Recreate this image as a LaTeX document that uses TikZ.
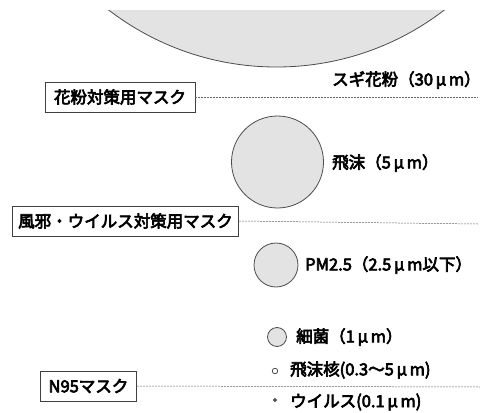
\documentclass[tikz,border=0pt]{standalone}
\usepackage{fontspec}
\newfontfamily\jp{Noto Sans CJK JP}[AutoFakeBold=4]
\begin{document}
\begin{tikzpicture}[x=1pt,y=-1pt,
  particle/.style={circle,draw=black!70,fill=gray!22,line width=0.8pt,inner sep=0pt},
  masklabel/.style={draw=black!75,line width=0.8pt,font=\jp\bfseries\fontsize{16.5}{18}\selectfont,inner xsep=6pt,inner ysep=0pt,minimum height=30pt},
  sizelabel/.style={anchor=west,font=\jp\bfseries\fontsize{16.5}{18}\selectfont,inner sep=0pt},
  limit/.style={draw=black!60,line width=0.5pt,dash pattern=on 2pt off 1pt}]
\useasboundingbox (0,0) rectangle (484,412);
\begin{scope}
\clip (0,11) rectangle (484,412);
\node[particle,minimum size=551pt] (pollen) at (276.5,-208.5) {};
\end{scope}
\node[sizelabel] (tpollen) at (332,80) {スギ花粉（30\,μ\,m）};
\node[masklabel,inner xsep=9pt] (m1) at (120,97) {花粉対策用マスク};
\coordinate (e1) at (478,97);
\draw[limit] (m1.east) -- (e1);

\node[particle,minimum size=92pt] (drop) at (277.5,162) {};
\node[sizelabel] (tdrop) at (332,163) {飛沫（5\,μ\,m）};
\node[masklabel] (m2) at (125.5,221) {風邪・ウイルス対策用マスク};
\coordinate (e2) at (478,224);
\draw[limit] (m2.east) -- (e2);

\node[particle,minimum size=44pt] (pm) at (276,265) {};
\node[sizelabel] (tpm) at (305,265) {PM2.5（2.5\,μ\,m以下）};

\node[particle,minimum size=19pt] (bac) at (277,337) {};
\node[sizelabel] (tbac) at (296,337) {細菌（1\,μ\,m）};

\node[particle,fill=white,minimum size=5.5pt] (nuc) at (275,371) {};
\node[sizelabel] (tnuc) at (290,370) {飛沫核(0.3〜5\,μ\,m)};

\node[masklabel,inner xsep=8pt] (m3) at (88.5,386) {N95マスク};
\coordinate (e3) at (480,387);
\draw[limit] (m3.east) -- (e3);

\node[particle,fill=black!60,minimum size=3pt] (vir) at (275,400) {};
\node[sizelabel] (tvir) at (290,402) {ウイルス(0.1\,μ\,m)};
\end{tikzpicture}
\end{document}
